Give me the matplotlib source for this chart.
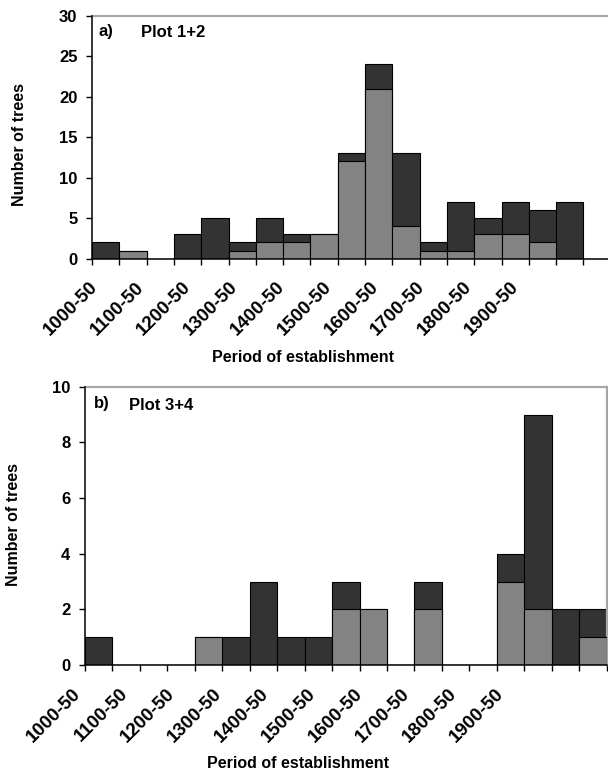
import numpy as np
import matplotlib
matplotlib.use("Agg")
import matplotlib.pyplot as plt
from matplotlib import transforms

plt.rcParams['font.family'] = ['Liberation Sans', 'DejaVu Sans']
plt.rcParams['font.weight'] = 'bold'

# ---- data ----
bin_starts = [1000, 1050, 1100, 1150, 1200, 1250, 1300, 1350, 1400, 1450,
              1500, 1550, 1600, 1650, 1700, 1750, 1800, 1850, 1900]
tick_labels = ['1000-50', '1100-50', '1200-50', '1300-50', '1400-50',
               '1500-50', '1600-50', '1700-50', '1800-50', '1900-50']

top_total = [2, 1, 0, 3, 5, 2, 5, 3, 3, 13, 24, 13, 2, 7, 5, 7, 6, 7, 0]
top_sub = [0, 1, 0, 0, 0, 1, 2, 2, 3, 12, 21, 4, 1, 1, 3, 3, 2, 0, 0]

bot_total = [1, 0, 0, 0, 1, 1, 3, 1, 1, 3, 2, 0, 3, 0, 0, 4, 9, 2, 2]
bot_sub = [0, 0, 0, 0, 1, 0, 0, 0, 0, 2, 2, 0, 2, 0, 0, 3, 2, 0, 1]

W, H = 608, 776
DARK = '#333333'
GREY = '#838383'
SPINE_GREY = '#a6a6a6'

fig = plt.figure(figsize=(W / 100, H / 100), dpi=100)


def px_axes(left, top, right, bottom):
    return fig.add_axes([left / W, 1 - bottom / H, (right - left) / W, (bottom - top) / H])


def draw_panel(ax, total, sub, ymax, ystep, label_pos, tag, tag_x, title, title_x, right_spine):
    n = len(bin_starts)
    x = np.arange(n)
    ax.bar(x, total, width=1, align='edge', color=DARK, edgecolor='black', linewidth=0.8, zorder=2)
    ax.bar(x, sub, width=1, align='edge', color=GREY, edgecolor='black', linewidth=0.8, zorder=3)
    ax.set_xticks(np.arange(0, n + 1))
    ax.set_xticklabels([])
    ax.set_yticks(np.arange(0, ymax + 0.1, ystep))
    ax.set_xlim(0, n)
    ax.set_ylim(0, ymax)
    ax.tick_params(axis='x', length=4.5, width=1.0, direction='out')
    ax.tick_params(axis='y', length=4.5, width=1.0, direction='out', pad=6, labelsize=12)
    for lab in ax.get_yticklabels():
        lab.set_fontweight('bold')
    base = transforms.blended_transform_factory(ax.transData, ax.transAxes)
    off = transforms.offset_copy(base, fig=fig, x=0, y=-20, units='dots')
    for p, t in zip(label_pos, tick_labels):
        ax.text(p, 0, t, transform=off, rotation=45, ha='right', va='top',
                rotation_mode='anchor', clip_on=False, fontsize=13.5, fontweight='bold')
    for s in ['left', 'bottom']:
        ax.spines[s].set_linewidth(1.1)
        ax.spines[s].set_color('black')
        ax.spines[s].set_zorder(5)
    ax.spines['top'].set_color(SPINE_GREY)
    ax.spines['top'].set_linewidth(1.6)
    ax.spines['right'].set_color(SPINE_GREY)
    ax.spines['right'].set_linewidth(1.6)
    ax.spines['right'].set_visible(right_spine)
    ax.text(tag_x, 0.965, tag, transform=ax.transAxes,
            fontsize=12, fontweight='bold', va='top', ha='left')
    ax.text(title_x, 0.96, title, transform=ax.transAxes,
            fontsize=12, fontweight='bold', va='top', ha='left')


ax1 = px_axes(92, 15.7, 92 + 19 * 27.3, 258.7)
draw_panel(ax1, top_total, top_sub, 30, 5,
           [-0.11 + i * 1.714 for i in range(10)], 'a)', 0.013, 'Plot 1+2', 0.095, False)

ax2 = px_axes(85, 386.7, 606.6, 665)
draw_panel(ax2, bot_total, bot_sub, 10, 2,
           [-0.47 + i * 1.712 for i in range(10)], 'b)', 0.018, 'Plot 3+4', 0.085, True)

fig.text(303 / W, 1 - 358 / H, 'Period of establishment', ha='center', va='center',
         fontsize=11.5, fontweight='bold')
fig.text(298 / W, 1 - 764 / H, 'Period of establishment', ha='center', va='center',
         fontsize=11.5, fontweight='bold')
fig.text(20 / W, 1 - 144 / H, 'Number of trees', ha='center', va='center',
         rotation=90, fontsize=11.5, fontweight='bold')
fig.text(14 / W, 1 - 525 / H, 'Number of trees', ha='center', va='center',
         rotation=90, fontsize=11.5, fontweight='bold')

fig.savefig('out.png', dpi=100)
